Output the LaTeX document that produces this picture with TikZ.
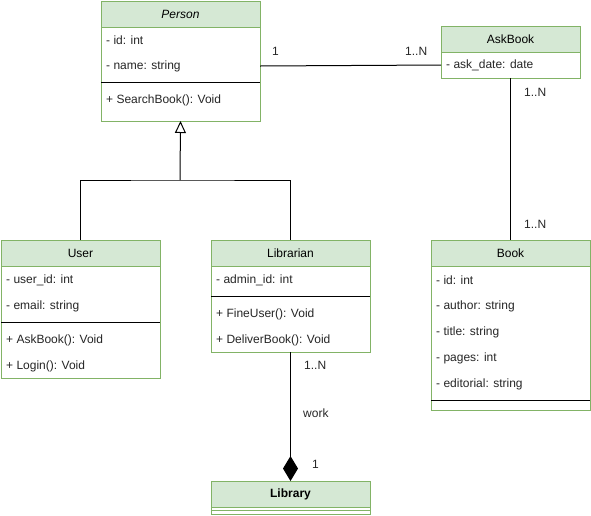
\documentclass[tikz,border=0pt]{standalone}
\usepackage{fontspec}
\setmainfont{Liberation Sans}
\usetikzlibrary{arrows.meta}
\definecolor{umlgreen}{HTML}{82B366}
\definecolor{umlfill}{HTML}{D5E8D4}
\tikzset{
  every node/.style={font=\fontsize{12}{14}\selectfont},
  bodybox/.style={draw=umlgreen, fill=white, line width=1pt, minimum width=159pt, anchor=north west, inner sep=0pt, outer sep=0pt},
  hdr/.style={draw=umlgreen, fill=umlfill, line width=1pt, minimum width=159pt, minimum height=26pt, anchor=north west, inner sep=0pt, outer sep=0pt},
  attr/.style={anchor=west, inner sep=0pt, text=black!85},
  lbl/.style={anchor=west, inner sep=0pt, text=black!85},
  sepline/.style={draw=black, line width=1pt},
  conn/.style={draw=black, line width=1pt}
}
\begin{document}
\begin{tikzpicture}[x=1pt,y=-1pt]
\useasboundingbox (0,0) rectangle (591,515);

% Person
\node[bodybox, minimum height=120pt] (person) at (101,1) {};
\node[hdr] (personh) at (101,1) {\textit{Person}};
\node[attr] (pid) at (106,40) {- id: int};
\node[attr] (pname) at (106,66) {- name: string};
\draw[sepline] (101,82) -- (260,82);
\node[attr] (psearch) at (106,100) {+ SearchBook(): Void};

% AskBook
\node[bodybox, minimum width=139pt, minimum height=52pt] (ask) at (441,26) {};
\node[hdr, minimum width=139pt] (askh) at (441,26) {AskBook};
\node[attr] (askdate) at (446,65) {- ask\_date: date};

% User
\node[bodybox, minimum height=138pt] (user) at (1,240) {};
\node[hdr] (userh) at (1,240) {User};
\node[attr] (uid) at (6,280) {- user\_id: int};
\node[attr] (uemail) at (6,306) {- email: string};
\draw[sepline] (1,322) -- (160,322);
\node[attr] (uask) at (6,340) {+ AskBook(): Void};
\node[attr] (ulogin) at (6,366) {+ Login(): Void};

% Librarian
\node[bodybox, minimum height=112pt] (libr) at (211,240) {};
\node[hdr] (librh) at (211,240) {Librarian};
\node[attr] (laid) at (216,280) {- admin\_id: int};
\draw[sepline] (211,296) -- (370,296);
\node[attr] (lfine) at (216,314) {+ FineUser(): Void};
\node[attr] (ldeliver) at (216,340) {+ DeliverBook(): Void};

% Book
\node[bodybox, minimum height=170pt] (book) at (431,240) {};
\node[hdr] (bookh) at (431,240) {Book};
\node[attr] (bid) at (436,280) {- id: int};
\node[attr] (bauthor) at (436,306) {- author: string};
\node[attr] (btitle) at (436,332) {- title: string};
\node[attr] (bpages) at (436,358) {- pages: int};
\node[attr] (bedit) at (436,384) {- editorial: string};
\draw[sepline] (431,400) -- (590,400);

% Library
\node[bodybox, minimum height=33pt] (lib) at (211,481) {};
\node[hdr] (libh) at (211,481) {\textbf{Library}};
\draw[draw=umlgreen, line width=1pt] (211,510) -- (370,510);

% Connectors
\coordinate (pconn) at (person.east |- pname);
\coordinate (aconn) at (ask.west |- askdate);
\draw[conn] (pconn) -- (aconn);
\node[lbl] (l1) at (272,51) {1};
\node[lbl] (l2) at (405,51) {1..N};

\draw[conn] (ask.south) -- (ask.south |- bookh.north);
\node[lbl] (l3) at (524,92) {1..N};
\node[lbl] (l4) at (524,224) {1..N};

\coordinate (joint) at (180,180);
\draw[conn] (userh.north) |- (joint) -| (librh.north);
\draw[conn, -{Triangle[open, width=11pt, length=12pt, line width=1pt]}] (joint) -- (person.south);

\draw[conn, -{Diamond[width=15pt, length=25pt]}] (libr.south) -- (libh.north);
\node[lbl] (l5) at (304,365) {1..N};
\node[lbl] (l6) at (303,413) {work};
\node[lbl] (l7) at (312,464) {1};
\end{tikzpicture}
\end{document}
